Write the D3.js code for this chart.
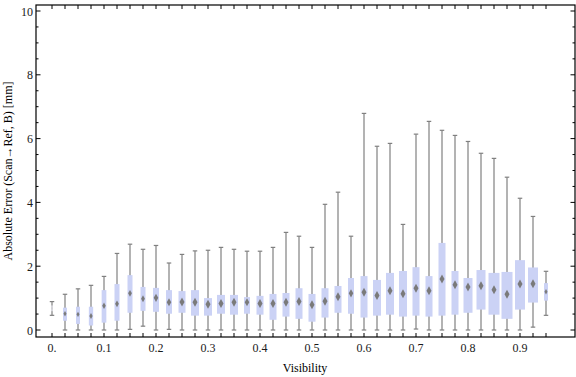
<!DOCTYPE html>
<html>
<head>
<meta charset="utf-8">
<script src="https://cdn.jsdelivr.net/npm/d3@7"></script>
<style>
  html, body { margin: 0; padding: 0; background: #fff; }
  svg { display: block; }
  text { font-family: "Liberation Serif", "DejaVu Serif", serif; }
</style>
</head>
<body>
<svg id="chart" width="576" height="377"></svg>
<script>
// ---- data ----
const visibility = [0, 0.025, 0.05, 0.075, 0.1, 0.125, 0.15, 0.175, 0.2, 0.225,
  0.25, 0.275, 0.3, 0.325, 0.35, 0.375, 0.4, 0.425, 0.45, 0.475,
  0.5, 0.525, 0.55, 0.575, 0.6, 0.625, 0.65, 0.675, 0.7, 0.725,
  0.75, 0.775, 0.8, 0.825, 0.85, 0.875, 0.9, 0.925, 0.95];
const whiskerLow = [0.46, 0, 0, 0, 0, 0, 0.02, 0.12, 0, 0.02,
  0, 0, 0, 0, 0, 0, 0, 0, 0, 0,
  0, 0, 0, 0, 0, 0, 0, 0, 0.03, 0,
  0, 0, 0, 0, 0, 0, 0, 0.09, 0.46];
const q1 = [0.59, 0.29, 0.19, 0.14, 0.23, 0.29, 0.54, 0.60, 0.57, 0.51,
  0.54, 0.45, 0.45, 0.51, 0.48, 0.51, 0.48, 0.32, 0.42, 0.35,
  0.26, 0.39, 0.54, 0.51, 0.39, 0.45, 0.48, 0.42, 0.45, 0.42,
  0.45, 0.48, 0.54, 0.64, 0.48, 0.35, 0.64, 0.86, 0.92];
const median = [0.68, 0.51, 0.49, 0.44, 0.76, 0.82, 1.15, 0.98, 1.01, 0.87,
  0.88, 0.87, 0.81, 0.83, 0.87, 0.87, 0.83, 0.83, 0.87, 0.89,
  0.79, 0.90, 1.04, 1.15, 1.18, 1.08, 1.23, 1.14, 1.31, 1.23,
  1.60, 1.42, 1.35, 1.39, 1.26, 1.12, 1.44, 1.45, 1.20];
const q3 = [0.77, 0.70, 0.73, 0.73, 1.25, 1.44, 1.72, 1.35, 1.32, 1.25,
  1.22, 1.25, 1.00, 1.10, 1.10, 1.03, 1.07, 1.13, 1.16, 1.31,
  1.13, 1.31, 1.38, 1.63, 1.69, 1.57, 1.79, 1.85, 1.97, 1.69,
  2.73, 1.85, 1.63, 1.88, 1.79, 1.82, 2.19, 1.96, 1.47];
const whiskerHigh = [0.89, 1.12, 1.29, 1.40, 1.68, 2.40, 2.69, 2.53, 2.65, 2.10,
  2.37, 2.48, 2.50, 2.59, 2.53, 2.47, 2.47, 2.59, 3.06, 2.94,
  2.59, 3.94, 4.32, 2.94, 6.79, 5.76, 5.85, 3.31, 6.14, 6.54,
  6.26, 6.10, 5.91, 5.54, 5.38, 4.79, 4.13, 3.56, 1.84];
// relative sample counts (drive box width)
const sampleCount = [15, 40, 40, 43, 47, 50, 50, 50, 60, 60,
  70, 80, 80, 80, 80, 60, 70, 70, 70, 70,
  70, 70, 70, 60, 70, 80, 80, 80, 70, 70,
  70, 70, 90, 90, 110, 110, 100, 100, 40];
const xTickLabels = ["0.", "0.1", "0.2", "0.3", "0.4", "0.5", "0.6", "0.7", "0.8", "0.9"];
const xTickValues = [0, 0.1, 0.2, 0.3, 0.4, 0.5, 0.6, 0.7, 0.8, 0.9];
const yTickValues = [0, 2, 4, 6, 8, 10];
const xLabel = "Visibility";
const yLabel = "Absolute Error (Scan\u2192Ref, B) [mm]";

// ---- layout ----
const svg = d3.select("#chart");
const mLeft = 36, mRight = 575, mTop = 5, mBottom = 337;
const x = d3.scaleLinear().domain([0, 1]).range([52, 572]);
const y = d3.scaleLinear().domain([0, 10]).range([330, 11]);
const w = d3.scaleLinear().domain([0, 110]).range([0, 11]);

const data = visibility.map((v, i) => ({
  v, lo: whiskerLow[i], q1: q1[i], med: median[i], q3: q3[i], hi: whiskerHigh[i], n: sampleCount[i]
}));

const boxColor = "#cbd2f5";
const whiskerColor = "#808080";

const g = svg.append("g");

// whiskers
const capW = 4.5;
g.selectAll("line.wh").data(data).enter().append("line")
  .attr("x1", d => x(d.v)).attr("x2", d => x(d.v))
  .attr("y1", d => y(d.lo)).attr("y2", d => y(d.hi))
  .attr("stroke", whiskerColor).attr("stroke-width", 1.2);
g.selectAll("line.capHi").data(data).enter().append("line")
  .attr("x1", d => x(d.v) - capW / 2).attr("x2", d => x(d.v) + capW / 2)
  .attr("y1", d => y(d.hi)).attr("y2", d => y(d.hi))
  .attr("stroke", whiskerColor).attr("stroke-width", 1.2);
g.selectAll("line.capLo").data(data).enter().append("line")
  .attr("x1", d => x(d.v) - capW / 2).attr("x2", d => x(d.v) + capW / 2)
  .attr("y1", d => y(d.lo)).attr("y2", d => y(d.lo))
  .attr("stroke", whiskerColor).attr("stroke-width", 1.2);

// boxes
g.selectAll("rect.box").data(data).enter().append("rect")
  .attr("x", d => x(d.v) - w(d.n) / 2)
  .attr("width", d => w(d.n))
  .attr("y", d => y(d.q3))
  .attr("height", d => y(d.q1) - y(d.q3))
  .attr("fill", d => d.n < 20 ? "#e4e4ec" : boxColor);

// median diamonds
g.selectAll("path.med").data(data).enter().append("path")
  .attr("d", d => {
    const cx = x(d.v), cy = y(d.med);
    const hw = Math.min(2.5, w(d.n) * 0.38);
    const hh = hw * 1.8;
    return `M${cx},${cy - hh}L${cx + hw},${cy}L${cx},${cy + hh}L${cx - hw},${cy}Z`;
  })
  .attr("fill", d => d.n < 20 ? "#c8c8c8" : "#7a7a7a");

// frame
const frame = svg.append("g").attr("stroke", "#000").attr("stroke-width", 1.2).attr("fill", "none");
frame.append("rect").attr("x", mLeft).attr("y", mTop).attr("width", mRight - mLeft).attr("height", mBottom - mTop);

// x ticks (bottom and top), at each box position
const tk = svg.append("g").attr("stroke", "#000").attr("stroke-width", 1);
visibility.forEach(v => {
  tk.append("line").attr("x1", x(v)).attr("x2", x(v)).attr("y1", mBottom).attr("y2", mBottom - 4);
  tk.append("line").attr("x1", x(v)).attr("x2", x(v)).attr("y1", mTop).attr("y2", mTop + 4);
});
// y ticks every 0.5, major every 2
d3.range(0, 10.01, 0.5).forEach(v => {
  const major = Math.abs(v % 2) < 1e-9;
  const len = major ? 4.5 : 2.5;
  tk.append("line").attr("x1", mLeft).attr("x2", mLeft + len).attr("y1", y(v)).attr("y2", y(v));
  tk.append("line").attr("x1", mRight).attr("x2", mRight - len).attr("y1", y(v)).attr("y2", y(v));
});

// tick labels
svg.append("g").selectAll("text").data(xTickValues).enter().append("text")
  .attr("x", d => x(d)).attr("y", 352)
  .attr("text-anchor", "middle").attr("font-size", 12).attr("fill", "#1a1a1a")
  .text((d, i) => xTickLabels[i]);
svg.append("g").selectAll("text").data(yTickValues).enter().append("text")
  .attr("x", 33).attr("y", d => y(d) + 4.5)
  .attr("text-anchor", "end").attr("font-size", 12).attr("fill", "#1a1a1a")
  .text(d => d);

// axis labels
svg.append("text").attr("x", 305).attr("y", 372).attr("text-anchor", "middle")
  .attr("font-size", 12).attr("fill", "#000").text(xLabel);
svg.append("text").attr("transform", "translate(12,171) rotate(-90)")
  .attr("text-anchor", "middle").attr("font-size", 12).attr("fill", "#000").text(yLabel);
</script>
</body>
</html>
